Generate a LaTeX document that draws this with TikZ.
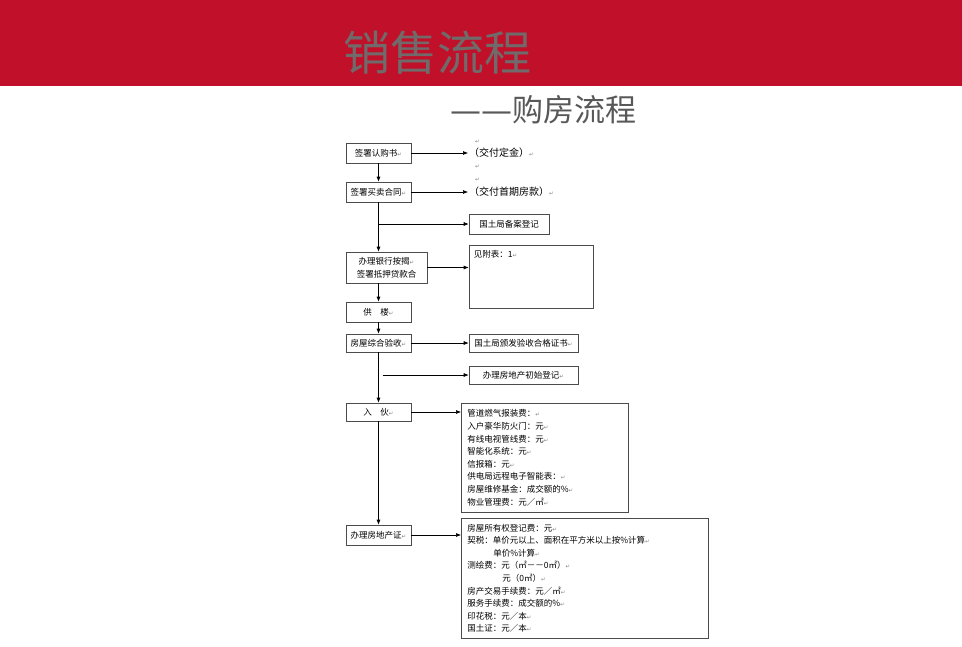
\documentclass[tikz,border=0pt]{standalone}
\usepackage{fontspec}
\setmainfont{Noto Sans CJK SC}
\newfontfamily\symfont{DejaVu Sans}
\usetikzlibrary{arrows.meta,positioning}
\definecolor{bannerred}{RGB}{193,16,42}
\definecolor{titlegray}{RGB}{112,106,106}
\definecolor{subgray}{RGB}{88,88,88}
\newcommand{\retmark}{{\symfont\fontsize{5.5}{6}\selectfont\color{gray}↵}}

\begin{document}
\begin{tikzpicture}[x=1pt,y=-1pt,
    stepbox/.style={draw=black!70, line width=0.6pt, fill=white,
                    font=\fontsize{8.5}{13}\selectfont, minimum width=65pt,
                    minimum height=20pt, inner sep=1pt, align=center},
    infobox/.style={draw=black!70, line width=0.6pt, anchor=north west,
                    font=\fontsize{8.5}{12.6}\selectfont, inner xsep=6pt,
                    inner ysep=3pt, align=left},
    note/.style={font=\fontsize{10}{12}\selectfont, inner sep=1pt, anchor=west},
    arr/.style={-{Latex[length=5pt,width=4pt]}, line width=0.6pt}
  ]
  \useasboundingbox (0,0) rectangle (962,646);
  \fill[bannerred] (0,0) rectangle (962,86);
  \node[font=\fontsize{47}{47}\selectfont, text=titlegray, inner sep=0pt] (title) at (437,53) {销售流程};
  \node[font=\fontsize{31}{31}\selectfont, text=subgray, inner sep=0pt] (subtitle) at (543,110) {{\symfont ——}购房流程};

  % main column
  \node[stepbox] (rengou) at (378.5,153) {签署认购书\retmark};
  \node[stepbox] (maimai) at (378.5,192) {签署买卖合同\retmark};
  \node[stepbox, minimum width=81pt, minimum height=31pt] (anjie) at (386.5,267.5) {办理银行按揭\retmark\\签署抵押贷款合};
  \node[stepbox] (gonglou) at (378.5,312) {供\quad 楼\retmark};
  \node[stepbox, minimum height=18pt] (yanshou) at (378.5,343) {房屋综合验收\retmark};
  \node[stepbox, minimum height=18pt] (ruhuo) at (378.5,412) {入\quad 伙\retmark};
  \node[stepbox] (fangchan) at (378.5,535) {办理房地产证\retmark};

  % right side
  \node[note] (ret1) at (474,142) {\retmark};
  \node[note] (dingjin) at (468,153) {（交付定金）\retmark};
  \node[note] (ret2) at (474,167) {\retmark};
  \node[note] (ret3) at (474,180) {\retmark};
  \node[note] (shoufu) at (468,192) {（交付首期房款）\retmark};
  \node[stepbox, minimum width=80pt] (beian) at (509,224) {国土局备案登记};
  \node[draw=black!70, line width=0.6pt, minimum width=124pt, minimum height=63pt] (fubiao) at (531,276.5) {};
  \node[font=\fontsize{8.5}{12}\selectfont, anchor=north west, inner sep=1pt] (fubiaotxt) at ([xshift=4pt,yshift=-4pt]fubiao.north west) {见附表：1\retmark};
  \node[stepbox, minimum width=109pt, minimum height=18pt] (hege) at (523.5,343) {国土局颁发验收合格证书\retmark};
  \node[stepbox, minimum width=109pt, minimum height=18pt] (chushi) at (523.5,375) {办理房地产初始登记\retmark};
  \node[infobox, text width=155pt, minimum height=109pt] (feiyong) at (461,403) {%
    管道燃气报装费：\retmark\\
    入户豪华防火门：元\retmark\\
    有线电视管线费：元\retmark\\
    智能化系统：元\retmark\\
    信报箱：元\retmark\\
    供电局远程电子智能表：\retmark\\
    房屋维修基金：成交额的\%\retmark\\
    物业管理费：元／㎡\retmark};
  \node[infobox, text width=235pt, minimum height=120pt] (shuifei) at (461,518) {%
    房屋所有权登记费：元\retmark\\
    契税：单价元以上、面积在平方米以上按\%计算\retmark\\
    \hspace*{26pt}单价\%计算\retmark\\
    测绘费：元（㎡－－0㎡）\retmark\\
    \hspace*{35pt}元（0㎡）\retmark\\
    房产交易手续费：元／㎡\retmark\\
    服务手续费：成交额的\%\retmark\\
    印花税：元／本\retmark\\
    国土证：元／本\retmark};

  % connectors
  \draw[arr] (rengou) -- (dingjin);
  \draw[arr] (rengou) -- (maimai);
  \draw[arr] (maimai) -- (shoufu);
  \draw[arr] (maimai.south) -- (maimai.south |- anjie.north);
  \draw[arr] (maimai.south |- beian) -- (beian);
  \draw[arr] (anjie.east) -- (anjie.east -| fubiao.west);
  \draw[arr] (gonglou.north |- anjie.south) -- (gonglou);
  \draw[arr] (gonglou) -- (yanshou);
  \draw[arr] (yanshou) -- (hege);
  \draw[arr] (yanshou) -- (ruhuo);
  \draw[arr] ([xshift=4pt]yanshou.south |- chushi) -- (chushi);
  \draw[arr] (ruhuo.east) -- (ruhuo.east -| feiyong.west);
  \draw[arr] (ruhuo) -- (fangchan);
  \draw[arr] (fangchan.east) -- (fangchan.east -| shuifei.west);
\end{tikzpicture}
\end{document}
